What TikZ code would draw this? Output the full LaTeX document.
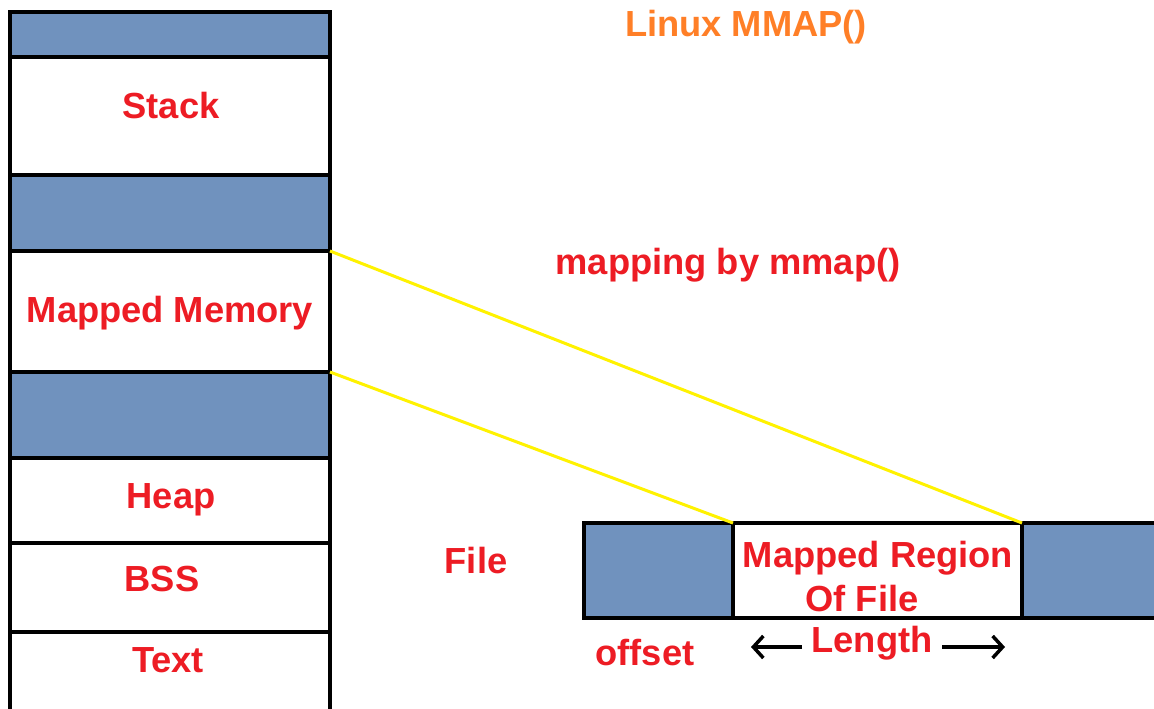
\documentclass[tikz,border=0pt]{standalone}
\usepackage{fontspec}
\setmainfont{Liberation Sans}
\usetikzlibrary{arrows.meta}
\definecolor{segblue}{HTML}{7092BE}
\definecolor{lblred}{HTML}{ED1C24}
\definecolor{ttlorange}{HTML}{FF7F27}
\definecolor{mapyellow}{HTML}{FFF200}
\begin{document}
\begin{tikzpicture}[x=1pt,y=-1pt,
  seg/.style={draw=black,line width=4pt,rectangle,anchor=north west,inner sep=0pt,outer sep=0pt,minimum width=#1},
  blueseg/.style={seg=#1,fill=segblue},
  whiteseg/.style={seg=#1,fill=white},
  lbl/.style={text=lblred,font=\fontsize{36.3}{40}\selectfont\bfseries,anchor=base,inner sep=0pt},
  ttl/.style={text=ttlorange,font=\fontsize{36.3}{40}\selectfont\bfseries,anchor=base,inner sep=0pt},
  mapline/.style={draw=mapyellow,line width=3pt},
  lenarrow/.style={draw=black,line width=3.5pt,-{Straight Barb[length=10pt,width=22pt,line width=3.5pt]}}
]
\useasboundingbox (0,0) rectangle (1154,709);
\clip (0,0) rectangle (1154,709);
\fill[white] (0,0) rectangle (1154,709);
% memory layout column
\node[blueseg=320pt,minimum height=45pt] (b1) at (10,12) {};
\node[whiteseg=320pt,minimum height=118pt] (stack) at (10,57) {};
\node[blueseg=320pt,minimum height=76pt] (b2) at (10,175) {};
\node[whiteseg=320pt,minimum height=121pt] (mm) at (10,251) {};
\node[blueseg=320pt,minimum height=86pt] (b3) at (10,372) {};
\node[whiteseg=320pt,minimum height=85pt] (heap) at (10,458) {};
\node[whiteseg=320pt,minimum height=89pt] (bss) at (10,543) {};
\node[whiteseg=320pt,minimum height=100pt] (txt) at (10,632) {};
\node[lbl] (lstack) at (171,118) {Stack};
\node[lbl] (lmm) at (170,322) {Mapped Memory};
\node[lbl] (lheap) at (171,508) {Heap};
\node[lbl] (lbss) at (162,591) {BSS};
\node[lbl] (ltxt) at (168,672) {Text};
% file
\node[blueseg=149pt,minimum height=95pt] (f1) at (584,523) {};
\node[whiteseg=289pt,minimum height=95pt] (f2) at (733,523) {};
\node[blueseg=160pt,minimum height=95pt] (f3) at (1022,523) {};
\node[lbl] (lfile) at (476,573) {File};
\node[lbl] (lmr) at (878,567) {Mapped Region};
\node[lbl] (lof) at (862,611) {Of File};
\node[lbl] (loff) at (645,665) {offset};
\node[lbl] (llen) at (872,652) {Length};
% titles
\node[ttl] (title) at (746,37) {Linux MMAP()};
\node[lbl] (lmap) at (728,274) {mapping by mmap()};
% mapping lines
\draw[mapline] (mm.north east) -- (f2.north east);
\draw[mapline] (mm.south east) -- (f2.north west);
% length arrows
\coordinate (la0) at (802,647);
\coordinate (la1) at (751,647);
\coordinate (ra0) at (942,647);
\coordinate (ra1) at (1005,647);
\draw[lenarrow] (la0) -- (la1);
\draw[lenarrow] (ra0) -- (ra1);
\end{tikzpicture}
\end{document}
